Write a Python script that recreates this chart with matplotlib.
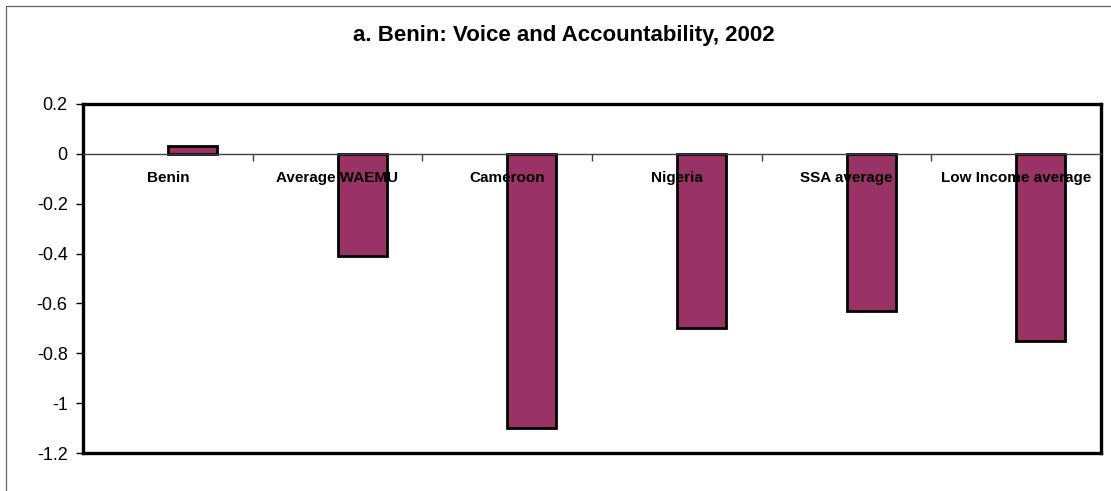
import matplotlib
matplotlib.use("Agg")
import matplotlib.pyplot as plt
from matplotlib.patches import Rectangle

categories = ["Benin", "Average WAEMU", "Cameroon", "Nigeria", "SSA average", "Low Income average"]
values = [0.03, -0.41, -1.10, -0.70, -0.63, -0.75]
y_ticks = [0.2, 0.0, -0.2, -0.4, -0.6, -0.8, -1.0, -1.2]
y_labels = ["0.2", "0", "-0.2", "-0.4", "-0.6", "-0.8", "-1", "-1.2"]
title = "a. Benin: Voice and Accountability, 2002"

plt.rcParams["font.family"] = ["Liberation Sans", "DejaVu Sans"]
plt.rcParams["axes.unicode_minus"] = False

W, H = 1111, 491
fig = plt.figure(figsize=(W / 100, H / 100), dpi=100)
ax = fig.add_axes([83 / W, 1 - 453 / H, (1101 - 83) / W, (453 - 104) / H])

# outer chart frame (cut off at right and bottom)
fig.patches.append(Rectangle((6 / W, -0.1), 1.2, 1 - 6 / H + 0.1, transform=fig.transFigure,
                             fill=False, edgecolor="#606060", linewidth=0.9))

x = list(range(len(categories)))
ax.bar(x, values, width=0.29, align="edge", color="#993366", edgecolor="black",
       linewidth=2.0, zorder=2)

ax.set_xlim(-0.5, len(categories) - 0.5)
ax.set_ylim(-1.2, 0.2)
ax.set_yticks(y_ticks, labels=y_labels)
ax.tick_params(axis="y", direction="out", length=5, width=1, labelsize=13, pad=6)
ax.set_xticks([])
for s in ax.spines.values():
    s.set_linewidth(2.4)
    s.set_color("black")

# category axis sitting on the zero line
loc = (0 - (-1.2)) / 1.4
sec = ax.secondary_xaxis(loc)
sec.set_xticks([i + 0.5 for i in x[:-1]], labels=[""] * (len(x) - 1))
sec.set_xticks(x, labels=categories, minor=True)
sec.tick_params(axis="x", which="both", top=False, bottom=True,
                labeltop=False, labelbottom=True)
sec.tick_params(axis="x", which="major", direction="out", length=5, width=1, color="#404040")
sec.tick_params(axis="x", which="minor", length=0, pad=12.5, labelsize=11)
for lbl in sec.get_xticklabels(minor=True):
    lbl.set_fontweight("bold")
for side in ("top", "bottom"):
    sec.spines[side].set_color("#404040")
    sec.spines[side].set_linewidth(1)
sec.set_zorder(5)

fig.text(564 / W, 1 - 35 / H, title, ha="center", va="center", fontsize=16,
         fontweight="bold")

fig.savefig("out.png", dpi=100)
